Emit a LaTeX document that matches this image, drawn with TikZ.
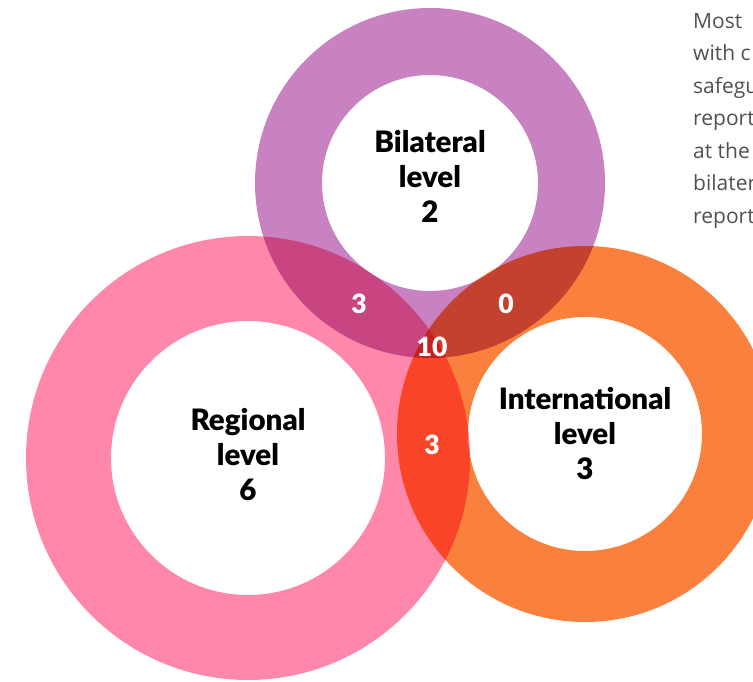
\documentclass[tikz,border=0pt]{standalone}
\usepackage{fontspec}
\setmainfont{Open Sans}
\newfontfamily\heavyfont{Lato Black}
\usepackage{tikz}
\usetikzlibrary{positioning,calc}
\definecolor{bilcol}{RGB}{200,130,194}
\definecolor{regcol}{RGB}{255,136,170}
\definecolor{intcol}{RGB}{249,128,61}
\definecolor{txtgray}{RGB}{80,80,80}
\tikzset{
  ring/.style={fill=#1,even odd rule},
  levellabel/.style={align=center,inner sep=0pt,
    font=\fontsize{29.5}{35}\heavyfont},
  countlabel/.style={text=white,inner sep=0pt,
    font=\fontsize{26.5}{30}\heavyfont},
  bodytext/.style={align=left,inner sep=0pt,anchor=north west,text=txtgray,
    font=\fontsize{21}{32.5}\selectfont}
}

\begin{document}
\begin{tikzpicture}[x=1pt,y=-1pt]
  \useasboundingbox (0,0) rectangle (753,682);
  \clip (0,0) rectangle (753,682);

  \coordinate (cbil) at (430,183);
  \coordinate (creg) at (248,458);
  \coordinate (cint) at (585,434);

  % the three rings
  \begin{scope}[blend mode=multiply]
    \fill[ring=bilcol] (cbil) circle (175pt) (cbil) circle (108pt);
    \fill[ring=regcol] (creg) circle (222pt) (creg) circle (137pt);
    \fill[ring=intcol] (cint) circle (188pt) (cint) circle (117pt);
  \end{scope}

  \node[levellabel] (bil) at (430,176) {Bilateral\\level\\2};
  \node[levellabel] (reg) at (248,455) {Regional\\level\\6};
  \node[levellabel] (int) at (585,434) {International\\level\\3};

  \node[countlabel] (bilreg) at (359,304) {3};
  \node[countlabel] (bilint) at (506,304) {0};
  \node[countlabel] (all)    at (432,347) {10};
  \node[countlabel] (regint) at (432,445) {3};

  \node[bodytext] (intro) at (693,13) {Most\\with c\\safegu\\report\\at the\\bilater\\report};
\end{tikzpicture}
\end{document}
